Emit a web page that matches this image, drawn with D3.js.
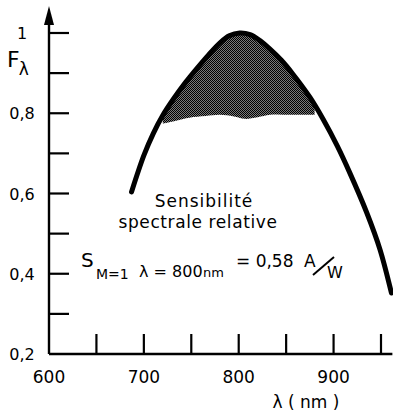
<!DOCTYPE html>
<html lang="fr">
<head>
    <meta charset="UTF-8">
    <title>Sensibilite spectrale</title>
    <style>
        body{ margin:0; background:#fff; }
        text{ font-family: "DejaVu Sans", sans-serif; fill:#000; }
        .tick{ stroke:#000; stroke-width:2.2px; }
        .axisline{ stroke:#000; stroke-width:2.4px; fill:none; }
        .curve{ stroke:#000; stroke-width:5px; fill:none; stroke-linecap:round; }
    </style>
    <script src="https://cdn.jsdelivr.net/npm/d3@7"></script>
</head>
<body>
<div id="container"></div>
<script type="text/javascript">
    // response curve (nm, relative)
    const curveNm  = [687, 700, 710, 720, 731, 744, 756, 768, 780, 790, 801, 812, 822, 833, 845, 857, 875, 889, 904, 917, 935, 949, 961];
    const curveVal = [0.604, 0.695, 0.75, 0.795, 0.835, 0.877, 0.912, 0.945, 0.975, 0.993, 1.0, 0.996, 0.982, 0.96, 0.932, 0.898, 0.84, 0.785, 0.718, 0.652, 0.552, 0.46, 0.352];

    // shaded zone
    const shadeNm     = [720, 735, 748, 765, 780, 795, 806, 820, 833, 855, 880];
    const shadeTop    = [0.795, 0.847, 0.888, 0.937, 0.975, 0.997, 0.999, 0.985, 0.96, 0.904, 0.822];
    const shadeBottom = [0.774, 0.782, 0.789, 0.793, 0.796, 0.792, 0.786, 0.79, 0.796, 0.796, 0.796];

    const xTicks  = [650, 700, 750, 800, 850, 900, 950];
    const xLabels = [600, 700, 800, 900];
    const yTicks  = [0.3, 0.4, 0.5, 0.6, 0.7, 0.8, 0.9, 1.0];
    const yLabels = [[0.2, "0,2"], [0.4, "0,4"], [0.6, "0,6"], [0.8, "0,8"], [1.0, "1"]];

    const width = 393, height = 413;
    const svg = d3.select("#container").append("svg")
        .attr("width", width).attr("height", height);

    const xScale = d3.scaleLinear().domain([600, 950]).range([49, 381]);
    const yScale = d3.scaleLinear().domain([0.2, 1]).range([354, 33]);

    // halftone pattern for the shaded area
    const pat = svg.append("defs").append("pattern")
        .attr("id", "dots").attr("patternUnits", "userSpaceOnUse")
        .attr("width", 2).attr("height", 2);
    pat.append("rect").attr("width", 2).attr("height", 2).attr("fill", "#7a7a7a");
    pat.append("rect").attr("width", 1).attr("height", 1).attr("fill", "#000");
    pat.append("rect").attr("x", 1).attr("y", 1).attr("width", 1).attr("height", 1).attr("fill", "#000");

    const shadeData = shadeNm.map((d, i) => ({nm: d, top: shadeTop[i], bot: shadeBottom[i]}));
    const areaGen = d3.area()
        .x(d => xScale(d.nm))
        .y0(d => yScale(d.bot))
        .y1(d => yScale(d.top))
        .curve(d3.curveCatmullRom);
    svg.append("path").datum(shadeData)
        .attr("d", areaGen)
        .attr("fill", "url(#dots)");

    // axes
    const x0 = xScale(600), yb = yScale(0.2);
    svg.append("line").attr("class", "axisline")
        .attr("x1", x0).attr("x2", x0).attr("y1", yb).attr("y2", 22);
    svg.append("path")
        .attr("d", `M${x0},6 L${x0 - 5},25 L${x0 + 5},25 Z`)
        .attr("fill", "#000");
    svg.append("line").attr("class", "axisline")
        .attr("x1", x0).attr("x2", xScale(962)).attr("y1", yb).attr("y2", yb);

    svg.selectAll(".ytick").data(yTicks).enter().append("line")
        .attr("class", "tick")
        .attr("x1", x0).attr("x2", x0 + 20)
        .attr("y1", d => yScale(d)).attr("y2", d => yScale(d));

    svg.selectAll(".xtick").data(xTicks).enter().append("line")
        .attr("class", "tick")
        .attr("x1", d => xScale(d)).attr("x2", d => xScale(d))
        .attr("y1", yb).attr("y2", yb - 20);

    svg.selectAll(".ylab").data(yLabels).enter().append("text")
        .attr("x", 22).attr("y", d => yScale(d[0]) + 6)
        .attr("text-anchor", "middle")
        .style("font-size", "16px")
        .text(d => d[1]);

    svg.selectAll(".xlab").data(xLabels).enter().append("text")
        .attr("x", d => xScale(d)).attr("y", 383)
        .attr("text-anchor", "middle")
        .style("font-size", "17px")
        .text(d => d);

    // curve
    const lineGen = d3.line()
        .x((d, i) => xScale(curveNm[i]))
        .y(d => yScale(d))
        .curve(d3.curveCatmullRom);
    svg.append("path").datum(curveVal)
        .attr("class", "curve")
        .attr("d", lineGen);

    // axis titles
    const fl = svg.append("text").attr("x", 7).attr("y", 67).style("font-size", "22px");
    fl.append("tspan").text("F");
    fl.append("tspan").attr("dx", -1).attr("dy", 8).style("font-size", "17px").text("λ");

    svg.append("text").attr("x", 306).attr("y", 408)
        .attr("text-anchor", "middle")
        .style("font-size", "17px")
        .text("λ ( nm )");

    // annotations
    svg.append("text").attr("x", 204).attr("y", 207)
        .attr("text-anchor", "middle")
        .style("font-size", "17px").style("letter-spacing", "1px")
        .text("Sensibilité");
    svg.append("text").attr("x", 198).attr("y", 228)
        .attr("text-anchor", "middle")
        .style("font-size", "17px").style("letter-spacing", "0.6px")
        .text("spectrale relative");

    svg.append("text").attr("x", 81).attr("y", 267).style("font-size", "20px").text("S");
    svg.append("text").attr("x", 96).attr("y", 279).style("font-size", "14px").text("M=1");
    svg.append("text").attr("x", 139).attr("y", 277).style("font-size", "16px").text("λ = 800");
    svg.append("text").attr("x", 203).attr("y", 277).style("font-size", "13px").text("nm");
    svg.append("text").attr("x", 236).attr("y", 267).style("font-size", "17px").text("= 0,58");
    svg.append("text").attr("x", 304).attr("y", 267).style("font-size", "17px").text("A");
    svg.append("line").attr("x1", 313).attr("y1", 275).attr("x2", 334).attr("y2", 257)
        .attr("stroke", "#000").attr("stroke-width", 2);
    svg.append("text").attr("x", 327).attr("y", 278).style("font-size", "16px").text("W");
</script>
</body>
</html>
